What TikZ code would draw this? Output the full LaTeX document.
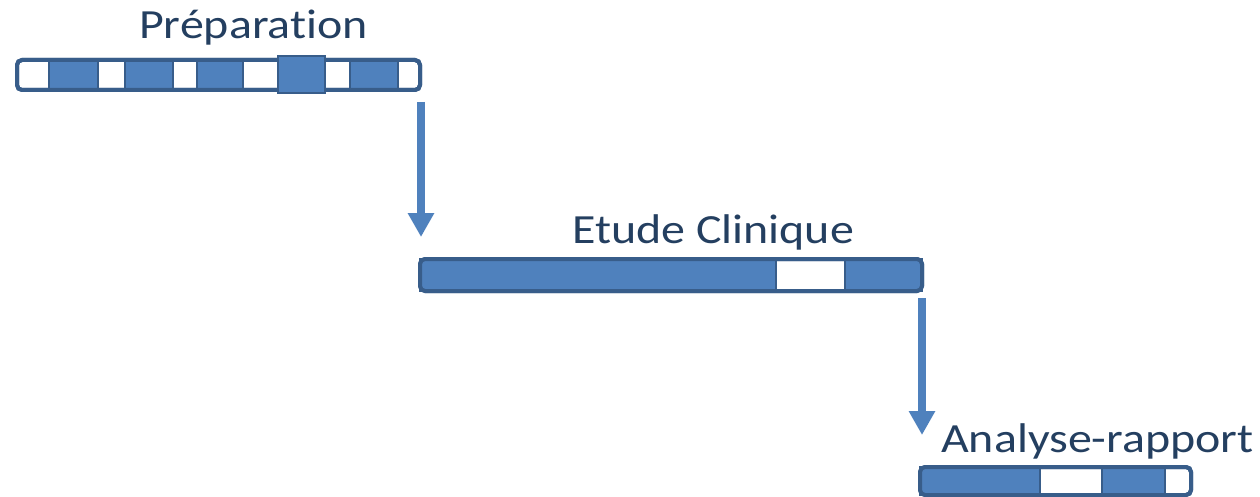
\documentclass[tikz,border=0pt]{standalone}
\usepackage{fontspec}
\setmainfont{Carlito}[Ligatures={NoCommon,NoRare,NoContextual}]
\usetikzlibrary{arrows.meta}
\definecolor{cellblue}{HTML}{4F81BD}
\definecolor{edgeblue}{HTML}{385D8A}
\definecolor{labelblue}{HTML}{243F60}
\newcommand{\widetext}[1]{\scalebox{1.155}[1]{#1}}
\tikzset{
  frame/.style={draw=edgeblue, line width=4pt, rounded corners=5pt, fill=white},
  cell/.style={draw=edgeblue, line width=2.5pt, fill=cellblue},
  phase/.style={font=\fontsize{41.5}{48}\selectfont, text=labelblue, inner sep=0pt, anchor=base west},
  flow/.style={draw=cellblue, line width=8pt, -{Triangle[width=25pt,length=24pt]}, shorten >=0pt},
}
\begin{document}
\begin{tikzpicture}[x=1pt,y=-1pt]
\useasboundingbox (0,0) rectangle (1260,497);

% Phase 1: preparation
\node[phase] (t1) at (139,38.5) {\widetext{Préparation}};
\draw[frame] (17,60) rectangle (420,90);
\draw[cell] (49,60) rectangle (98,90);
\draw[cell] (125,60) rectangle (173,90);
\draw[cell] (197,60) rectangle (243,90);
\draw[cell] (350,60) rectangle (398,90);
\draw[frame, fill=none] (17,60) rectangle (420,90);
\draw[cell] (278,56) rectangle (325,93);

% Phase 2: clinical study
\node[phase] (t2) at (572,243) {\widetext{Etude Clinique}};
\draw[frame] (420,259) rectangle (922,291);
\draw[cell] (420,259) rectangle (776,291);
\draw[cell] (845,259) rectangle (922,291);
\draw[frame, fill=none] (420,259) rectangle (922,291);

% Phase 3: analysis and report
\node[phase] (t3) at (941,452) {\widetext{Analyse-rapport}};
\draw[frame] (920,467) rectangle (1191,495);
\draw[cell] (920,467) rectangle (1040,495);
\draw[cell] (1102,467) rectangle (1165,495);
\draw[frame, fill=none] (920,467) rectangle (1191,495);

% Hand-over arrows between phases
\coordinate (a1s) at (421,102);
\coordinate (a1e) at (421,237);
\coordinate (a2s) at (922,298);
\coordinate (a2e) at (922,435);
\draw[flow] (a1s) -- (a1e);
\draw[flow] (a2s) -- (a2e);
\end{tikzpicture}
\end{document}
